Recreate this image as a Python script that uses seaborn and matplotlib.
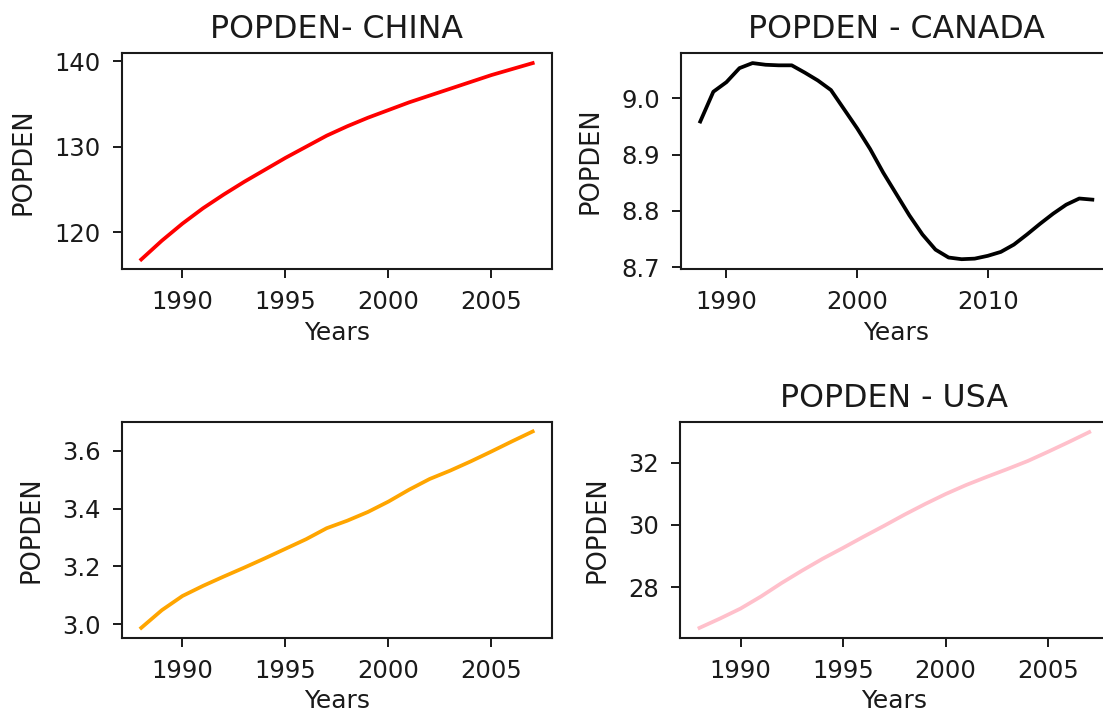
import matplotlib
matplotlib.use("Agg")
import matplotlib.pyplot as plt
import seaborn as sns

# Population density series (people per sq. km)
years_short = list(range(1988, 2008))
years_long = list(range(1988, 2019))

popden_china = [116.8, 119.0, 121.0, 122.8, 124.4, 125.9, 127.3, 128.7, 130.0, 131.3,
                132.4, 133.4, 134.3, 135.2, 136.0, 136.8, 137.6, 138.4, 139.1, 139.8]

popden_canada = [8.959, 9.012, 9.029, 9.054, 9.063, 9.060, 9.059, 9.059, 9.046, 9.032,
                 9.015, 8.981, 8.947, 8.910, 8.868, 8.830, 8.792, 8.758, 8.731, 8.717,
                 8.714, 8.715, 8.720, 8.727, 8.740, 8.758, 8.777, 8.795, 8.811, 8.822,
                 8.820]

popden_third = [2.988, 3.049, 3.098, 3.133, 3.165, 3.196, 3.228, 3.261, 3.294, 3.332,
                3.358, 3.388, 3.424, 3.465, 3.502, 3.531, 3.563, 3.597, 3.632, 3.666]

popden_usa = [26.69, 26.99, 27.31, 27.70, 28.13, 28.53, 28.91, 29.26, 29.62, 29.97,
              30.33, 30.67, 30.99, 31.28, 31.54, 31.79, 32.05, 32.35, 32.66, 32.98]

titles = ["POPDEN- CHINA", "POPDEN - CANADA", "", "POPDEN - USA"]
x_label = "Years"
y_label = "POPDEN"

xticks_short = [1990, 1995, 2000, 2005]
xticks_long = [1990, 2000, 2010]
yticks_china = [120, 130, 140]
yticks_canada = [8.7, 8.8, 8.9, 9.0]
yticks_third = [3.0, 3.2, 3.4, 3.6]
yticks_usa = [28, 30, 32]

panels = [
    (years_short, popden_china, "red", xticks_short, yticks_china),
    (years_long, popden_canada, "black", xticks_long, yticks_canada),
    (years_short, popden_third, "orange", xticks_short, yticks_third),
    (years_short, popden_usa, "pink", xticks_short, yticks_usa),
]

plt.rcParams["font.family"] = ["DejaVu Sans"]

fig = plt.figure(figsize=(11.03, 7.16), dpi=100)

# Axes rectangles: [left, bottom, width, height] in figure fraction
rects = [
    [0.1103, 0.6239, 0.3904, 0.3017],
    [0.6171, 0.6243, 0.3910, 0.3013],
    [0.1103, 0.1094, 0.3904, 0.3017],
    [0.6165, 0.1094, 0.3887, 0.3008],
]

for rect, (xs, ys, color, xt, yt), title in zip(rects, panels, titles):
    ax = fig.add_axes(rect)
    sns.lineplot(x=xs, y=ys, ax=ax, color=color, linewidth=2.7)
    ax.set_xticks(xt)
    ax.set_yticks(yt)
    ax.tick_params(axis="both", labelsize=17.5, length=6.5, width=1.4, pad=8.5,
                   color="#1a1a1a", labelcolor="#1a1a1a")
    for sp in ax.spines.values():
        sp.set_linewidth(1.5)
        sp.set_color("#1a1a1a")
    ax.set_xlabel(x_label, fontsize=18, labelpad=5, color="#1a1a1a")
    ax.set_ylabel(y_label, fontsize=18.5, labelpad=13, color="#1a1a1a")
    if title:
        ax.set_title(title, fontsize=22.8, pad=11, color="#1a1a1a")

fig.savefig("out.png", dpi=100)
